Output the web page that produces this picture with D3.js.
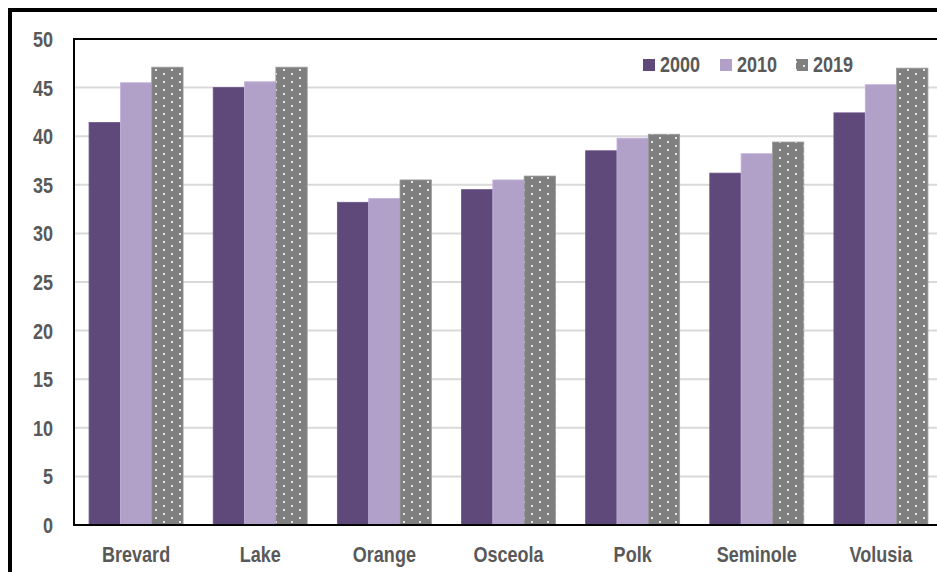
<!DOCTYPE html>
<html><head><meta charset="utf-8">
<script src="https://cdn.jsdelivr.net/npm/d3@7"></script>
<style>
html,body{margin:0;padding:0;background:#fff;overflow:hidden}
text{font-family:"Liberation Sans",Arial,sans-serif;font-weight:bold;fill:#595959}
</style></head><body>
<svg id="c" width="937" height="572"></svg>
<script>
const categories = ["Brevard","Lake","Orange","Osceola","Polk","Seminole","Volusia"];
const seriesNames = ["2000","2010","2019"];
const v2000 = [41.4, 45.0, 33.2, 34.5, 38.5, 36.2, 42.4];
const v2010 = [45.5, 45.6, 33.6, 35.5, 39.8, 38.2, 45.3];
const v2019 = [47.1, 47.1, 35.5, 35.9, 40.2, 39.4, 47.0];
const yTicks = [0,5,10,15,20,25,30,35,40,45,50];
const colors = ["#5F497A","#B1A0C7","#7F7F7F"];
const seriesVals = [v2000, v2010, v2019];

const FS = 22, SX = 0.82;
const svg = d3.select("#c");
const defs = svg.append("defs");
const pat = defs.append("pattern").attr("id","dots").attr("patternUnits","userSpaceOnUse")
  .attr("width",16).attr("height",8);
pat.append("rect").attr("width",16).attr("height",8).attr("fill",colors[2]);
[[4,2],[12,6]].forEach(([x,y])=>{
  pat.append("rect").attr("x",x-0.9).attr("y",y-0.9).attr("width",1.8).attr("height",1.8).attr("fill","#fff");
});
const fills = [colors[0], colors[1], "url(#dots)"];

const L = 74, R = 943, T = 39, B = 525;
const x = d3.scaleBand().domain(categories).range([L,R]).paddingInner(0).paddingOuter(0);
const y = d3.scaleLinear().domain([0,50]).range([B,T]);
const groupW = 94;
const xs = d3.scaleBand().domain(seriesNames).range([0,groupW]);

function label(g, px, py, txt, anchor){
  return g.append("text")
    .attr("transform",`translate(${px},${py}) scale(${SX},1)`)
    .attr("text-anchor",anchor).attr("font-size",FS).text(txt);
}

// gridlines
svg.append("g").selectAll("line").data(yTicks.filter(t=>t>0 && t<50)).join("line")
  .attr("x1",L).attr("x2",R).attr("y1",d=>y(d)).attr("y2",d=>y(d))
  .attr("stroke","#D9D9D9").attr("stroke-width",2);

// bars
seriesNames.forEach((s,si)=>{
  svg.append("g").selectAll("rect").data(categories).join("rect")
    .attr("x",(c)=>x(c)+(x.bandwidth()-groupW)/2+xs(s))
    .attr("width",xs.bandwidth())
    .attr("y",(c,i)=>y(seriesVals[si][i]))
    .attr("height",(c,i)=>B-y(seriesVals[si][i]))
    .attr("fill",fills[si])
    .attr("stroke", si===2 ? "#9a9a9a" : d3.color(colors[si]).brighter(0.3))
    .attr("stroke-width",0.8);
});

// y axis labels
const gy = svg.append("g");
yTicks.forEach(t=> label(gy, 53, y(t)+8, String(t), "end"));

// x axis labels
const gx = svg.append("g");
categories.forEach(c=> label(gx, x(c)+x.bandwidth()/2, 562, c, "middle"));

// plot area border
svg.append("rect").attr("x",L).attr("y",T).attr("width",R-L).attr("height",B-T)
  .attr("fill","none").attr("stroke","#000").attr("stroke-width",2);

// legend
const lg = svg.append("g");
const legX = [643, 720, 796];
seriesNames.forEach((s,i)=>{
  lg.append("rect").attr("x",legX[i]).attr("y",59).attr("width",12).attr("height",12).attr("fill",fills[i]);
  label(lg, legX[i]+17, 72, s, "start");
});

// outer border
svg.append("rect").attr("x",10).attr("y",10).attr("width",1000).attr("height",1000)
  .attr("fill","none").attr("stroke","#000").attr("stroke-width",4);
</script>
</body></html>
